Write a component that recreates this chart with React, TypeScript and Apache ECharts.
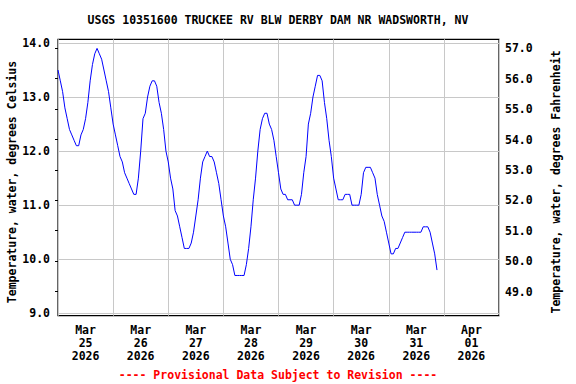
import React, { useEffect, useRef } from "react";
import * as echarts from "echarts";

const TITLE = "USGS 10351600 TRUCKEE RV BLW DERBY DAM NR WADSWORTH, NV";
const LEFT_NAME = "Temperature, water, degrees Celsius";
const RIGHT_NAME = "Temperature, water, degrees Fahrenheit";
const FOOTER = "---- Provisional Data Subject to Revision ----";

// Day labels (each centered on its day)
const DAY_LABELS = [
  "Mar\n25\n2026",
  "Mar\n26\n2026",
  "Mar\n27\n2026",
  "Mar\n28\n2026",
  "Mar\n29\n2026",
  "Mar\n30\n2026",
  "Mar\n31\n2026",
  "Apr\n01\n2026",
];

// Hourly water temperature (deg C), starting Mar 25 2026 00:00
const TEMP_C = [
  13.5, 13.3, 13.1, 12.8, 12.6, 12.4, 12.3, 12.2, 12.1, 12.1, 12.3, 12.4,
  12.6, 12.9, 13.3, 13.6, 13.8, 13.9, 13.8, 13.7, 13.5, 13.3, 13.1, 12.8,
  12.5, 12.3, 12.1, 11.9, 11.8, 11.6, 11.5, 11.4, 11.3, 11.2, 11.2, 11.5,
  12.0, 12.6, 12.7, 13.0, 13.2, 13.3, 13.3, 13.2, 12.9, 12.7, 12.4, 12.0,
  11.8, 11.5, 11.3, 10.9, 10.8, 10.6, 10.4, 10.2, 10.2, 10.2, 10.3, 10.5,
  10.8, 11.1, 11.5, 11.8, 11.9, 12.0, 11.9, 11.9, 11.8, 11.6, 11.4, 11.1,
  10.8, 10.6, 10.3, 10.0, 9.9, 9.7, 9.7, 9.7, 9.7, 9.7, 9.9, 10.2,
  10.6, 11.1, 11.5, 12.0, 12.4, 12.6, 12.7, 12.7, 12.5, 12.4, 12.2, 11.9,
  11.6, 11.3, 11.2, 11.2, 11.1, 11.1, 11.1, 11.0, 11.0, 11.0, 11.2, 11.6,
  11.9, 12.5, 12.7, 13.0, 13.2, 13.4, 13.4, 13.3, 12.9, 12.6, 12.2, 11.9,
  11.5, 11.3, 11.1, 11.1, 11.1, 11.2, 11.2, 11.2, 11.0, 11.0, 11.0, 11.0,
  11.2, 11.6, 11.7, 11.7, 11.7, 11.6, 11.5, 11.2, 11.0, 10.8, 10.7, 10.5,
  10.3, 10.1, 10.1, 10.2, 10.2, 10.3, 10.4, 10.5, 10.5, 10.5, 10.5, 10.5,
  10.5, 10.5, 10.5, 10.6, 10.6, 10.6, 10.5, 10.3, 10.1, 9.8,
];

const C_TICKS_MIN = 9;
const C_TICKS_MAX = 14;
const F_TICKS_MIN = 49;
const F_TICKS_MAX = 57;
const HOURS_TOTAL = 192;

const FONT = "'DejaVu Sans Mono', monospace";
const FS = 11.5;

export default function App() {
  const ref = useRef<HTMLDivElement>(null);

  useEffect(() => {
    if (!ref.current) return;
    const chart = echarts.init(ref.current, undefined, { renderer: "svg" });
    const labelStyle = {
      fontFamily: FONT,
      fontSize: FS,
      fontWeight: "bold" as const,
      color: "#000",
    };
    const GL = 58;
    const GR = 576 - 499;
    const option: any = {
      animation: false,
      backgroundColor: "#fff",
      grid: [
        { left: GL, right: GR, top: 39.3, bottom: 384 - 315.7, show: true, borderColor: "#000", borderWidth: 1.2, backgroundColor: "transparent" },
        { left: GL, right: GR, top: 43, bottom: 384 - 313.3 },
        { left: GL, right: GR, top: 48.3, bottom: 384 - 291.5 },
      ],
      xAxis: [
        {
          type: "value",
          gridIndex: 0,
          min: 0,
          max: HOURS_TOTAL,
          interval: 24,
          axisLine: { show: false },
          axisTick: { show: false },
          axisLabel: { show: false },
          splitLine: { show: true, lineStyle: { color: "#c8c8c8", width: 1 } },
        },
        {
          type: "category",
          gridIndex: 0,
          position: "bottom",
          data: DAY_LABELS,
          boundaryGap: true,
          axisLine: { show: false },
          axisTick: { show: false },
          splitLine: { show: false },
          axisLabel: { ...labelStyle, lineHeight: 13, margin: 8, interval: 0 },
        },
        { type: "value", gridIndex: 1, show: false, min: 0, max: 1 },
        { type: "value", gridIndex: 2, show: false, min: 0, max: 1 },
      ],
      yAxis: [
        { type: "value", gridIndex: 0, show: false, min: 8.956, max: 14.068 },
        {
          type: "value",
          gridIndex: 1,
          min: C_TICKS_MIN,
          max: C_TICKS_MAX,
          interval: 1,
          axisLine: { show: false },
          axisTick: { show: false },
          axisLabel: { ...labelStyle, margin: 8, formatter: (v: number) => v.toFixed(1) },
          splitLine: { show: true, lineStyle: { color: "#c8c8c8", width: 1 } },
        },
        {
          type: "value",
          gridIndex: 2,
          position: "right",
          min: F_TICKS_MIN,
          max: F_TICKS_MAX,
          interval: 1,
          axisLine: { show: false },
          axisTick: { show: true, inside: true, length: 3, lineStyle: { color: "#000", width: 1 } },
          axisLabel: { ...labelStyle, margin: 6, formatter: (v: number) => v.toFixed(1) },
          splitLine: { show: false },
        },
      ],
      series: [
        {
          type: "line",
          xAxisIndex: 0,
          yAxisIndex: 0,
          data: TEMP_C.map((v, i) => [i, v]),
          showSymbol: false,
          symbol: "none",
          lineStyle: { color: "#0000ff", width: 1 },
          itemStyle: { color: "#0000ff" },
          z: 5,
        },
      ],
      graphic: [
        {
          type: "text",
          x: 278,
          y: 20,
          style: { text: TITLE, align: "center", verticalAlign: "middle", fontFamily: FONT, fontSize: FS, fontWeight: "bold", fill: "#000" },
        },
        {
          type: "text",
          x: 12,
          y: 182,
          rotation: Math.PI / 2,
          style: { text: LEFT_NAME, align: "center", verticalAlign: "middle", fontFamily: FONT, fontSize: FS, fontWeight: "bold", fill: "#000" },
        },
        {
          type: "text",
          x: 556,
          y: 182,
          rotation: Math.PI / 2,
          style: { text: RIGHT_NAME, align: "center", verticalAlign: "middle", fontFamily: FONT, fontSize: FS, fontWeight: "bold", fill: "#000" },
        },
        {
          type: "text",
          x: 278,
          y: 375,
          style: { text: FOOTER, align: "center", verticalAlign: "middle", fontFamily: FONT, fontSize: FS, fontWeight: "bold", fill: "#ff0000" },
        },
      ],
    };
    chart.setOption(option);
    return () => chart.dispose();
  }, []);

  return (
    <div
      ref={ref}
      style={{ position: "fixed", left: 0, top: 0, width: 576, height: 384 }}
    />
  );
}
